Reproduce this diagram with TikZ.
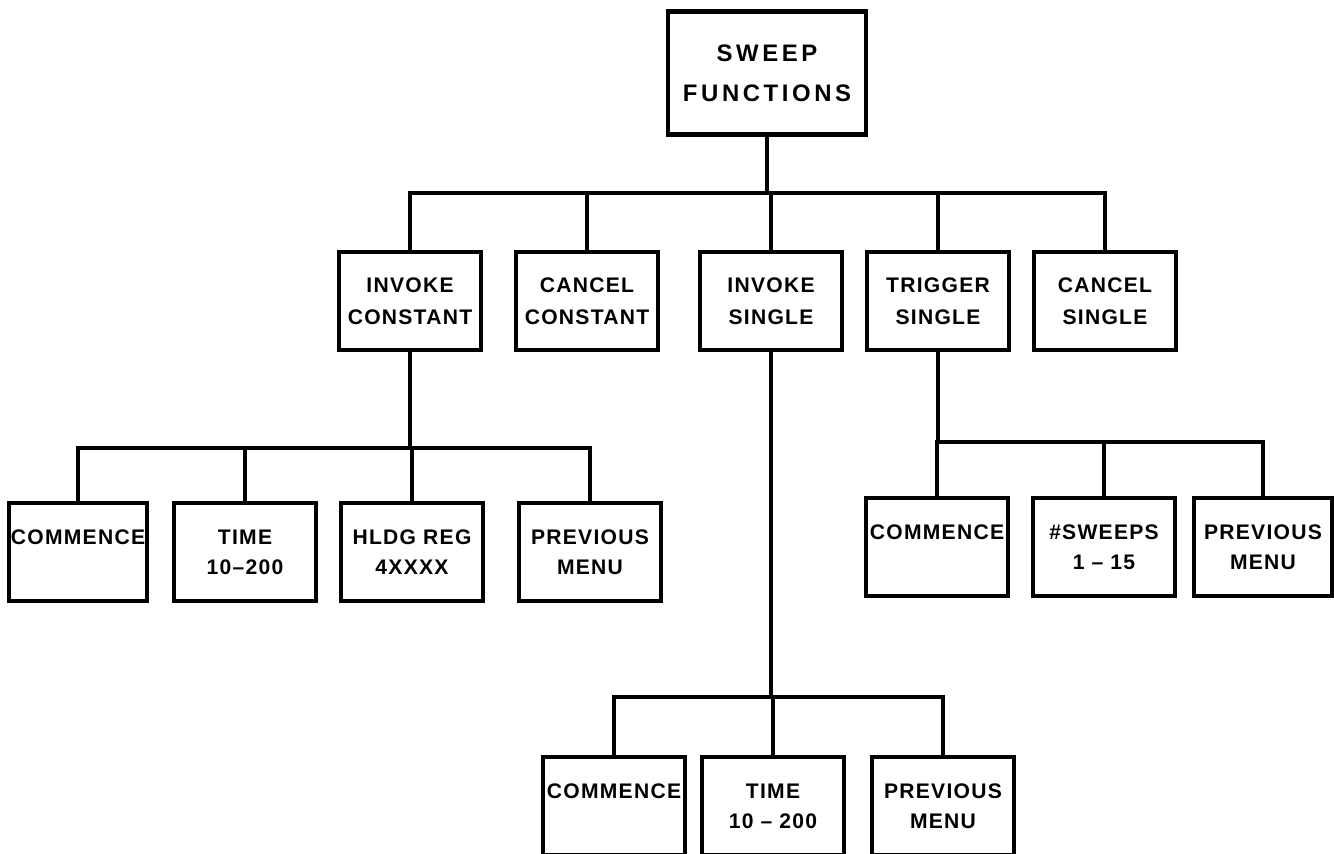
\documentclass[tikz,border=0pt]{standalone}
\usepackage{fontspec}
\setmainfont{Liberation Sans}
\newfontfamily\menufont[LetterSpace=6]{Liberation Sans}
\newfontfamily\headfont[LetterSpace=15]{Liberation Sans}
\usetikzlibrary{positioning,calc}

\begin{document}
\begin{tikzpicture}[x=0.02cm,y=-0.02cm,line width=2pt,
   menubox/.style={draw,rectangle,line width=2.4pt,inner sep=1pt,align=center,
     minimum width=2.84cm,minimum height=1.96cm,
     font=\menufont\bfseries\fontsize{12}{17}\selectfont},
   topbox/.style={menubox,minimum width=3.96cm,minimum height=2.46cm,
     font=\headfont\bfseries\fontsize{13.6}{22.7}\selectfont}]
  \useasboundingbox (0,0) rectangle (1334,854);
  \node (sweep) [topbox] at (767,73) {SWEEP\\FUNCTIONS};

  \node (invcon) [menubox,font=\menufont\bfseries\fontsize{12}{18.5}\selectfont] at (410,301) {INVOKE\\CONSTANT};
  \node (cancon) [menubox,font=\menufont\bfseries\fontsize{12}{18.5}\selectfont] at (587,301) {CANCEL\\CONSTANT};
  \node (invsgl) [menubox,font=\menufont\bfseries\fontsize{12}{18.5}\selectfont] at (771,301) {INVOKE\\SINGLE};
  \node (trgsgl) [menubox,font=\menufont\bfseries\fontsize{12}{18.5}\selectfont] at (938,301) {TRIGGER\\SINGLE};
  \node (cansgl) [menubox,font=\menufont\bfseries\fontsize{12}{18.5}\selectfont] at (1105,301) {CANCEL\\SINGLE};

  \node (com1)  [menubox,minimum width=2.76cm] at (78,552) {COMMENCE\\\phantom{0}};
  \node (time1) [menubox] at (245,552) {TIME\\10–200};
  \node (hldg)  [menubox] at (412,552) {HLDG REG\\4XXXX};
  \node (prev1) [menubox] at (590,552) {PREVIOUS\\MENU};

  \node (com2)   [menubox] at (937,547) {COMMENCE\\\phantom{0}};
  \node (sweeps) [menubox] at (1104,547) {\#SWEEPS\\1 – 15};
  \node (prev2)  [menubox,minimum width=2.76cm] at (1263,547) {PREVIOUS\\MENU};

  \node (com3)  [menubox] at (614,806) {COMMENCE\\\phantom{0}};
  \node (time3) [menubox] at (773,806) {TIME\\10 – 200};
  \node (prev3) [menubox] at (943,806) {PREVIOUS\\MENU};

  \coordinate (busA) at (0,193);
  \coordinate (busB) at (0,448);
  \coordinate (busC) at (0,442);
  \coordinate (busD) at (0,697);

  \draw (sweep.south) -- (sweep.south |- busA);
  \draw (invcon.north) |- (busA -| cansgl.north) -- (cansgl.north);
  \foreach \n in {cancon,invsgl,trgsgl}
    \draw (\n.north) -- (\n.north |- busA);

  \draw (invcon.south) -- (invcon.south |- busB);
  \draw (com1.north) |- (busB -| prev1.north) -- (prev1.north);
  \foreach \n in {time1,hldg}
    \draw (\n.north) -- (\n.north |- busB);

  \draw (trgsgl.south) -- (trgsgl.south |- busC);
  \draw (com2.north) |- (busC -| prev2.north) -- (prev2.north);
  \draw (sweeps.north) -- (sweeps.north |- busC);

  \draw (invsgl.south) -- (invsgl.south |- busD);
  \draw (com3.north) |- (busD -| prev3.north) -- (prev3.north);
  \draw (time3.north) -- (time3.north |- busD);
\end{tikzpicture}
\end{document}
